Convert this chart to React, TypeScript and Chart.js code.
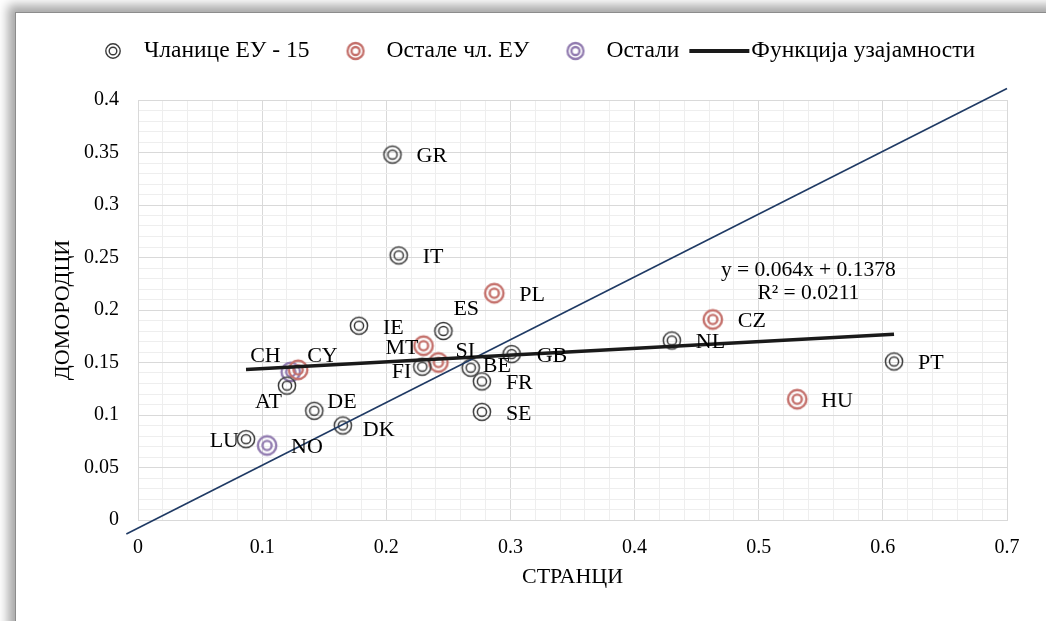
import React, { useEffect, useRef } from "react";
import { Chart, registerables } from "chart.js";

Chart.register(...registerables);

// ---- data ----
const seriesNames = ["Чланице ЕУ - 15", "Остале чл. ЕУ", "Остали", "Функција узајамности"];

const eu15Codes = ["GR", "IT", "ES", "IE", "NL", "PT", "FI", "GB", "BE", "FR", "SE", "AT", "DE", "DK", "LU"];
const eu15X = [0.205, 0.210, 0.246, 0.178, 0.430, 0.609, 0.229, 0.301, 0.268, 0.277, 0.277, 0.120, 0.142, 0.165, 0.087];
const eu15Y = [0.348, 0.252, 0.180, 0.185, 0.171, 0.151, 0.146, 0.158, 0.145, 0.132, 0.103, 0.128, 0.104, 0.090, 0.077];

const otherEuCodes = ["PL", "CZ", "HU", "MT", "SI", "CY"];
const otherEuX = [0.287, 0.463, 0.531, 0.230, 0.242, 0.129];
const otherEuY = [0.216, 0.191, 0.115, 0.166, 0.150, 0.143];

const othersCodes = ["CH", "NO"];
const othersX = [0.123, 0.104];
const othersY = [0.141, 0.071];

// trendline y = 0.064x + 0.1378 over the data range
const trendX = [0.087, 0.609];
const trendY = [0.1434, 0.1768];

// reference diagonal
const diagX = [-0.0094, 0.7];
const diagY = [-0.0133, 0.411];

const equationLines = ["y = 0.064x + 0.1378", "R² = 0.0211"];
const equationAt = [0.54, 0.238];
const xTitle = "СТРАНЦИ";
const yTitle = "ДОМОРОДЦИ";

// ---- styling ----
const FONT = "'Liberation Serif', 'Times New Roman', serif";
const FS_TICK = 20;
const FS_LABEL = 22;
const FS_EQ = 21.5;
const FS_TITLE = 22;
const FS_LEGEND = 23.5;
const colBlack = "#3a3a3a";
const colRed = "#c4706b";
const colPurple = "#927cb0";

// label offsets (pixels) relative to the marker
const labelOffsets: Record<string, [number, number]> = {
  GR: [24, 2], IT: [24, 2], PL: [25, 2], ES: [10, -22], IE: [24, 2], CZ: [25, 2],
  NL: [24, 2], PT: [24, 2], HU: [24, 2], MT: [-5, 3], SI: [17, -11], FI: [-11, 6],
  GB: [25, 2], BE: [12, -2], FR: [24, 2], SE: [24, 2], CH: [-10, -16], CY: [9, -14],
  AT: [-5, 17], DE: [13, -9], DK: [20, 5], LU: [-7, 2], NO: [24, 2],
};

function makeRing(color: string, outerR: number, innerR: number, lw: number): HTMLCanvasElement {
  const c = document.createElement("canvas");
  c.width = 26;
  c.height = 26;
  const g = c.getContext("2d")!;
  g.strokeStyle = color;
  g.lineWidth = lw;
  g.beginPath();
  g.arc(13, 13, outerR, 0, Math.PI * 2);
  g.stroke();
  g.beginPath();
  g.arc(13, 13, innerR, 0, Math.PI * 2);
  g.stroke();
  return c;
}

export default function App() {
  const ref = useRef<HTMLCanvasElement>(null);

  useEffect(() => {
    const canvas = ref.current;
    if (!canvas) return;

    const ringBlack = makeRing(colBlack, 8.6, 4.6, 1.5);
    const ringRed = makeRing(colRed, 9.2, 4.6, 2.4);
    const ringPurple = makeRing(colPurple, 9.2, 4.6, 2.4);
    const legendRings = [
      makeRing(colBlack, 7.2, 3.8, 1.4),
      makeRing(colRed, 8, 4, 2.3),
      makeRing(colPurple, 8, 4, 2.3),
    ];

    const toPts = (xs: number[], ys: number[]) => xs.map((x, i) => ({ x, y: ys[i] }));
    const codeSets = [eu15Codes, otherEuCodes, othersCodes];

    const overlay = {
      id: "overlay",
      afterDatasetsDraw(chart: any) {
        const ctx = chart.ctx;
        const xs = chart.scales.x;
        const ys = chart.scales.y;
        ctx.save();
        ctx.font = `${FS_LABEL}px ${FONT}`;
        ctx.fillStyle = "#000";
        ctx.textBaseline = "middle";
        // point labels
        [2, 3, 4].forEach((dsIndex, k) => {
          const meta = chart.getDatasetMeta(dsIndex);
          const codes = codeSets[k];
          meta.data.forEach((el: any, i: number) => {
            const code = codes[i];
            const off = labelOffsets[code] || [24, 2];
            ctx.textAlign = off[0] < 0 ? "right" : "left";
            ctx.fillText(code, el.x + off[0], el.y + off[1]);
          });
        });
        // equation
        ctx.font = `${FS_EQ}px ${FONT}`;
        ctx.textAlign = "center";
        const ex = xs.getPixelForValue(equationAt[0]);
        const ey = ys.getPixelForValue(equationAt[1]);
        equationLines.forEach((t, i) => ctx.fillText(t, ex, ey + i * 23));
        ctx.restore();
      },
      afterDraw(chart: any) {
        const ctx = chart.ctx;
        ctx.save();
        ctx.font = `${FS_LEGEND}px ${FONT}`;
        ctx.fillStyle = "#000";
        ctx.textBaseline = "middle";
        ctx.textAlign = "left";
        const ly = 51;
        let x = 113;
        let end = 0;
        for (let i = 0; i < 3; i++) {
          const img = legendRings[i];
          ctx.drawImage(img, x - img.width / 2, ly - img.height / 2);
          const tx = x + 31;
          ctx.fillText(seriesNames[i], tx, ly);
          end = tx + ctx.measureText(seriesNames[i]).width;
          x = end + 46;
        }
        // line item
        const lx0 = end + 10;
        ctx.strokeStyle = "#1a1a1a";
        ctx.lineWidth = 4;
        ctx.beginPath();
        ctx.moveTo(lx0, ly);
        ctx.lineTo(lx0 + 60, ly);
        ctx.stroke();
        ctx.fillText(seriesNames[3], lx0 + 62, ly);
        ctx.restore();
      },
    };

    const gridColor = (c: any) => (c.index % 5 === 0 ? "#d9d9d9" : "#eeeeee");

    const chart = new Chart(canvas, {
      type: "scatter",
      data: {
        datasets: [
          {
            label: seriesNames[3],
            type: "line",
            data: toPts(trendX, trendY),
            borderColor: "#1a1a1a",
            borderWidth: 3.5,
            pointRadius: 0,
            fill: false,
          } as any,
          {
            label: "diag",
            type: "line",
            data: toPts(diagX, diagY),
            borderColor: "#1f3a64",
            borderWidth: 1.6,
            pointRadius: 0,
            fill: false,
            clip: false,
          } as any,
          {
            label: seriesNames[0],
            data: toPts(eu15X, eu15Y),
            pointStyle: ringBlack,
          } as any,
          {
            label: seriesNames[1],
            data: toPts(otherEuX, otherEuY),
            pointStyle: ringRed,
          } as any,
          {
            label: seriesNames[2],
            data: toPts(othersX, othersY),
            pointStyle: ringPurple,
          } as any,
        ],
      },
      options: {
        responsive: false,
        animation: false,
        devicePixelRatio: 1,
        events: [],
        layout: { padding: { top: 100, right: 39, bottom: 0, left: 0 } },
        plugins: {
          legend: { display: false },
          tooltip: { enabled: false },
        },
        scales: {
          x: {
            type: "linear",
            min: 0,
            max: 0.7,
            afterFit: (s: any) => { s.height = 101; },
            ticks: {
              stepSize: 0.02,
              autoSkip: false,
              maxRotation: 0,
              padding: 16,
              color: "#000",
              font: { family: FONT, size: FS_TICK },
              callback: (v: any, i: number) => (i % 5 === 0 ? String(Math.round(Number(v) * 10) / 10) : ""),
            },
            grid: { color: gridColor, lineWidth: 1, drawTicks: false },
            border: { color: "#d9d9d9" },
            title: {
              display: true,
              text: xTitle,
              color: "#000",
              font: { family: FONT, size: FS_TITLE },
              padding: { top: 0, bottom: 31 },
            },
          },
          y: {
            type: "linear",
            min: 0,
            max: 0.4,
            afterFit: (s: any) => { s.width = 138; },
            ticks: {
              stepSize: 0.01,
              autoSkip: false,
              padding: 19,
              color: "#000",
              font: { family: FONT, size: FS_TICK },
              callback: (v: any, i: number) => (i % 5 === 0 ? String(Math.round(Number(v) * 100) / 100) : ""),
            },
            grid: { color: gridColor, lineWidth: 1, drawTicks: false },
            border: { color: "#d9d9d9" },
            title: {
              display: true,
              text: yTitle,
              color: "#000",
              font: { family: FONT, size: FS_TITLE },
              padding: { top: 50, bottom: 0 },
            },
          },
        },
      } as any,
      plugins: [overlay],
    });

    return () => chart.destroy();
  }, []);

  return (
    <div style={{ position: "fixed", left: 0, top: 0, width: 1046, height: 621, background: "#fff", overflow: "hidden" }}>
      <div
        style={{
          position: "absolute",
          left: 15,
          top: 12,
          width: 1100,
          height: 700,
          borderLeft: "1px solid #8c8c8c",
          borderTop: "1px solid #8c8c8c",
          boxShadow: "-4px -4px 10px 3px rgba(0,0,0,0.35)",
          background: "#fff",
        }}
      />
      <canvas ref={ref} width={1046} height={621} style={{ position: "absolute", left: 0, top: 0, width: 1046, height: 621 }} />
    </div>
  );
}
